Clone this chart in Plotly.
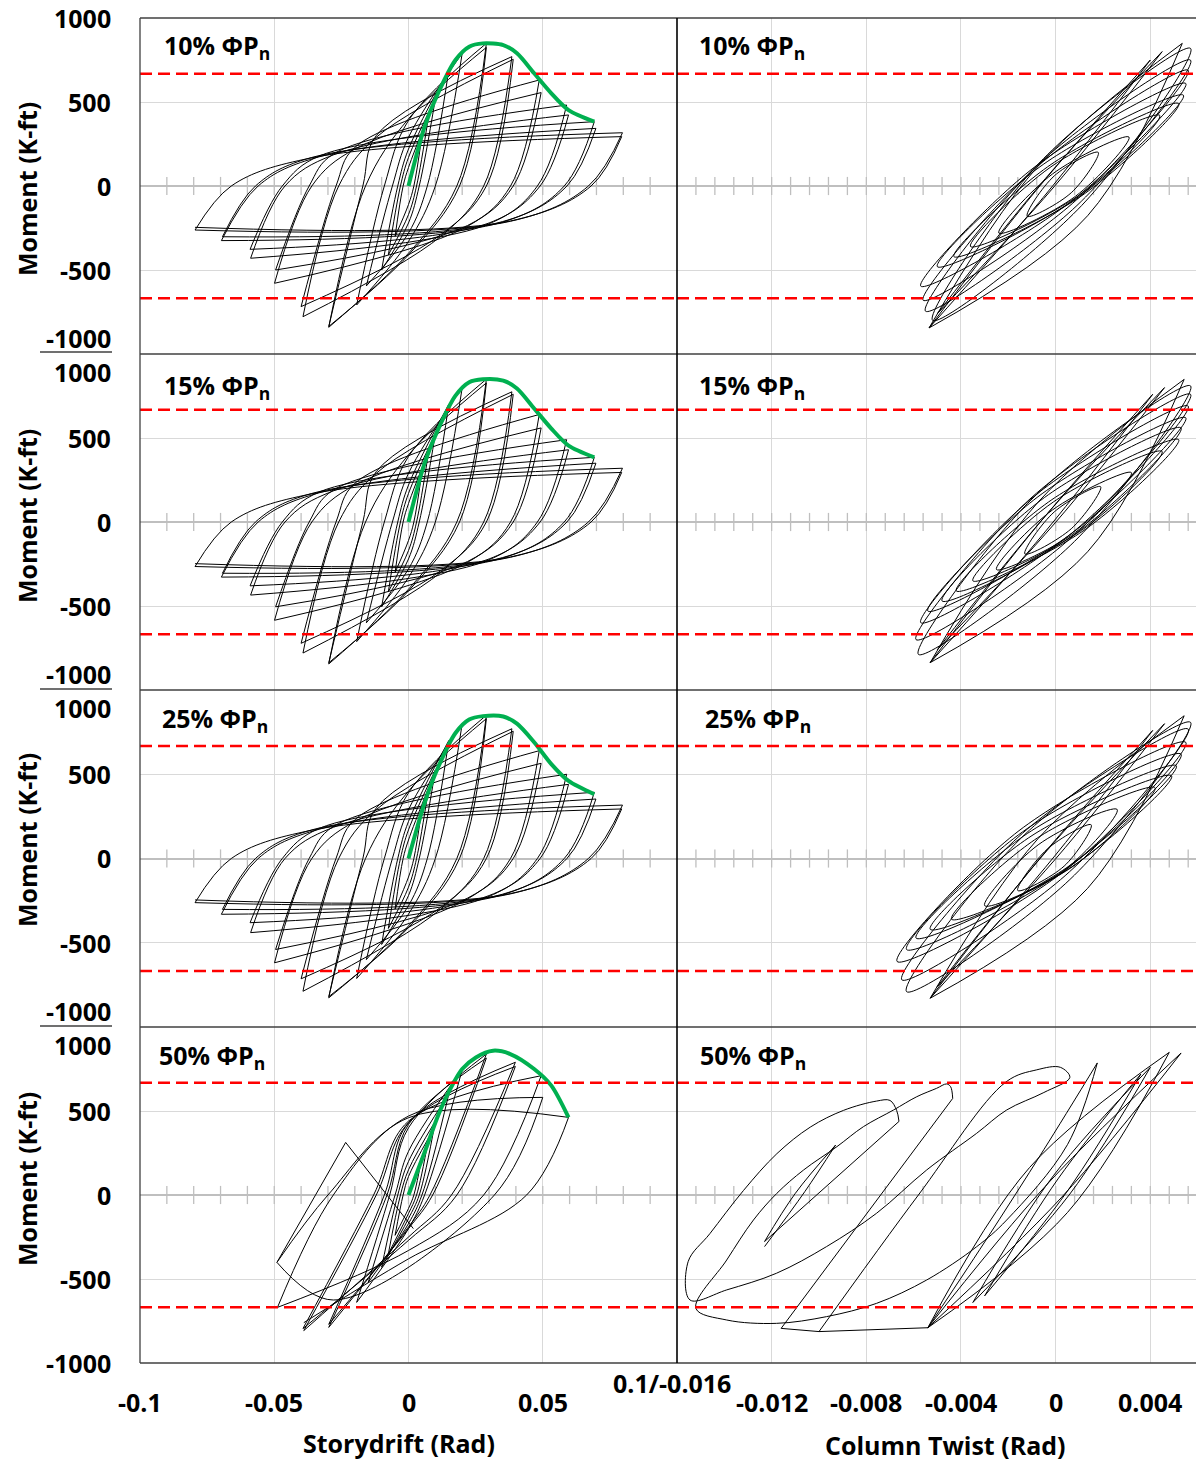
import numpy as np
import plotly.graph_objects as go

W, H = 1196, 1462

# ---------------- data ----------------
LOAD_LEVELS = ["10%", "15%", "25%", "50%"]
CAPACITY = 668  # red dashed lines (K-ft)

# storydrift cycles for the 10/15/25 % rows: tips, zero-moment crossings, and a knee point
DRIFT_POS = [0.005, 0.0075, 0.01, 0.015, 0.02, 0.029, 0.029, 0.0385, 0.039, 0.0487, 0.0494,
             0.0589, 0.0596, 0.0692, 0.0698, 0.0797, 0.0794]
DRIFT_NEG = [-0.005, -0.0075, -0.01, -0.0157, -0.0193, -0.0297, -0.0297, -0.0393, -0.04, -0.0499,
             -0.0495, -0.0588, -0.059, -0.0697, -0.0693, -0.0795, -0.0795]
RESID_POS = [0.002, 0.003, 0.004, 0.007, 0.010, 0.018, 0.019, 0.028, 0.029, 0.038, 0.039,
             0.048, 0.049, 0.058, 0.059, 0.067, 0.068]
RESID_NEG = [-0.002, -0.003, -0.004, -0.006, -0.009, -0.016, -0.017, -0.026, -0.027, -0.036,
             -0.037, -0.046, -0.047, -0.056, -0.057, -0.066, -0.066]
KNEE_D_POS = [0, 0, 0, 0, 0, 0, 0, -0.012, -0.012, -0.02, -0.02, -0.028, -0.028, -0.033, -0.033, -0.036, -0.036]
KNEE_M_POS = [0, 110, 170, 220, 290, 390, 400, 300, 290, 230, 220, 190, 185, 180, 175, 170, 168]
KNEE_D_NEG = [0, 0, 0, 0, 0, 0, 0, 0.012, 0.012, 0.022, 0.022, 0.03, 0.03, 0.035, 0.035, 0.038, 0.038]
KNEE_M_NEG = [-110, -170, -220, -280, -330, -400, -410, -300, -290, -240, -235, -225, -220, -215,
              -212, -210, -208]

MOM_POS_10 = [300, 420, 520, 690, 790, 849, 825, 770, 754, 631, 556, 482, 423, 383, 343, 317, 294]
MOM_NEG_10 = [-300, -410, -500, -595, -708, -841, -836, -778, -718, -579, -500, -430, -377, -325,
              -302, -262, -246]
MOM_POS_15 = [300, 420, 525, 700, 800, 850, 828, 775, 760, 640, 560, 490, 430, 385, 350, 320, 295]
MOM_NEG_15 = [-300, -415, -505, -600, -712, -845, -838, -780, -722, -585, -505, -435, -380, -328,
              -305, -265, -248]
MOM_POS_25 = [300, 420, 525, 700, 800, 850, 830, 770, 755, 640, 565, 500, 440, 393, 353, 317, 294]
MOM_NEG_25 = [-300, -415, -510, -600, -712, -827, -820, -788, -714, -619, -540, -440, -381, -331,
              -302, -262, -246]

# storydrift, 50 % row
DRIFT_POS_50 = [0.005, 0.0075, 0.01, 0.015, 0.02, 0.029, 0.029, 0.0398, 0.0398, 0.0494, 0.05, 0.0596]
MOM_POS_50 = [230, 340, 440, 600, 745, 839, 815, 790, 765, 710, 581, 462]
DRIFT_NEG_50 = [-0.005, -0.0075, -0.01, -0.015, -0.0193, -0.0297, -0.0297, -0.039, -0.0393, -0.0488,
                -0.049, -0.039]
MOM_NEG_50 = [-240, -350, -430, -520, -639, -788, -770, -807, -795, -669, -401, -760]
RESID_POS_50 = [0.002, 0.003, 0.004, 0.005, 0.006, 0.008, 0.009, 0.016, 0.018, 0.028, 0.032, 0.044]
RESID_NEG_50 = [-0.002, -0.003, -0.004, -0.005, -0.007, -0.008, -0.009, -0.012, -0.013, -0.028,
                -0.030, -0.020]
KNEE_D_POS_50 = [0, 0, 0, 0, 0, 0, 0, 0, 0, 0, 0, 0]
KNEE_M_POS_50 = [0, 110, 150, 200, 260, 400, 420, 430, 430, 440, 470, 460]
KNEE_D_NEG_50 = [0, 0, 0, 0, 0, 0, 0, 0, 0, 0, -0.028, 0]
KNEE_M_NEG_50 = [-80, -110, -140, -170, -200, -190, -200, -250, -270, -330, -625, -380]
TAIL_DRIFT_50 = [-0.049, -0.0234, 0.0018]
TAIL_MOM_50 = [-401, 313, -200]

# green backbone curves
GREEN_DRIFT = [0, 0.006, 0.011, 0.0175, 0.0226, 0.0277, 0.0353, 0.0404, 0.0468, 0.0532, 0.0596, 0.0692]
GREEN_MOM_10 = [0, 353, 552, 750, 829, 849, 839, 790, 671, 552, 452, 383]
GREEN_MOM_15 = [0, 350, 550, 752, 832, 850, 842, 795, 676, 556, 455, 385]
GREEN_MOM_25 = [0, 330, 540, 745, 825, 845, 843, 800, 690, 560, 460, 381]
GREEN_DRIFT_50 = [0, 0.006, 0.011, 0.0149, 0.02, 0.0251, 0.0315, 0.0379, 0.0468, 0.0532, 0.0596]
GREEN_MOM_50 = [0, 254, 472, 611, 750, 819, 859, 839, 750, 651, 462]

# column twist loops: left end, right end, a point on the upper and on the lower branch
TW_NEG_10 = [-0.00535, -0.00535, -0.0050, -0.0052, -0.0055, -0.0056, -0.0057, -0.0050, -0.0043, -0.0036, -0.0024, -0.0012]
MT_NEG_10 = [-845, -845, -760, -800, -745, -680, -596, -480, -420, -360, -280, -180]
TW_POS_10 = [0.00535, 0.0040, 0.0045, 0.0057, 0.0057, 0.0056, 0.0055, 0.0054, 0.0052, 0.0044, 0.0031, 0.0018]
MT_POS_10 = [849, 750, 800, 819, 749, 689, 610, 540, 490, 420, 291, 200]
UP_TW_10 = [-0.00075, -0.00083, -0.00043, -0.0007, -0.0008, -0.0008, -0.0009, -0.0005, -0.0002, -0.0002, -0.00013, -0.00006]
UP_MT_10 = [117, -27, 45, 136, 120, 113, 112, 131, 128, 114, 72, 60]
LO_TW_10 = [0.00135, -0.00053, -0.00007, 0.0011, 0.0009, 0.0007, 0.0006, 0.0009, 0.0011, 0.001, 0.00083, 0.00066]
LO_MT_10 = [-177, -69, -5, -116, -116, -105, -98, -71, -58, -54, -62, -40]

TW_NEG_15 = [-0.0053, -0.0053, -0.0050, -0.0058, -0.0059, -0.0057, -0.0054, -0.0048, -0.0042, -0.0035, -0.0025, -0.0013]
MT_NEG_15 = [-837, -837, -760, -788, -700, -599, -530, -470, -410, -350, -283, -190]
TW_POS_15 = [0.00543, 0.0041, 0.0046, 0.0057, 0.0057, 0.0056, 0.0055, 0.0053, 0.0052, 0.0045, 0.0032, 0.0019]
MT_POS_15 = [849, 760, 800, 810, 760, 690, 620, 560, 490, 420, 294, 210]
UP_TW_15 = [-0.00075, -0.00075, -0.00038, -0.001, -0.001, -0.0009, -0.00075, -0.00047, -0.00016, -0.0001, -0.00013, -0.00006]
UP_MT_15 = [117, -17, 45, 137, 148, 154, 150, 146, 133, 119, 72, 60]
LO_TW_15 = [0.00135, -0.00045, -0.00002, 0.0008, 0.0007, 0.0007, 0.00075, 0.00097, 0.00116, 0.0011, 0.00083, 0.00066]
LO_MT_15 = [-177, -59, -5, -115, -88, -64, -60, -56, -53, -49, -62, -40]

TW_NEG_25 = [-0.0053, -0.0053, -0.0050, -0.0063, -0.0065, -0.0067, -0.0063, -0.0059, -0.0053, -0.0044, -0.0030, -0.0016]
MT_NEG_25 = [-829, -829, -760, -790, -720, -611, -540, -472, -420, -360, -280, -190]
TW_POS_25 = [0.00543, 0.0041, 0.0046, 0.0057, 0.0056, 0.0055, 0.0053, 0.0051, 0.0049, 0.0042, 0.0026, 0.0015]
MT_POS_25 = [847, 760, 800, 808, 768, 689, 619, 550, 490, 420, 291, 200]
UP_TW_25 = [-0.00075, -0.00075, -0.00038, -0.0013, -0.0014, -0.00155, -0.0014, -0.0012, -0.001, -0.00076, -0.00074, -0.00036]
UP_MT_25 = [117, -13, 45, 143, 150, 165, 158, 148, 136, 123, 81, 55]
LO_TW_25 = [0.00135, -0.00045, -0.00002, 0.0006, 0.0004, 0.00025, 0.0003, 0.0003, 0.0005, 0.00056, 0.00034, 0.00036]
LO_MT_25 = [-177, -55, -5, -125, -102, -87, -78, -70, -66, -63, -71, -45]
SHARP_TW = [1, 1, 1, 0, 0, 0, 0, 0, 0, 0, 0, 0]

# 50 % row twist: the dense loops on the right ...
TW_NEG_50 = [-0.0054, -0.0054, -0.0035, -0.0030]
MT_NEG_50 = [-790, -790, -640, -600]
TW_POS_50 = [0.0048, 0.0053, 0.0040, 0.0036]
MT_POS_50 = [849, 845, 760, 720]
UP_TW_50 = [-0.0011, -0.0003, -0.0001, 0.0001]
UP_MT_50 = [164, 73, 114, 96]
LO_TW_50 = [0.0005, 0.00023, 0.0006, 0.0005]
LO_MT_50 = [-104, -17, 6, 24]
SHARP_50 = [1, 1, 1, 1]
# ... and the drifting loops on the left, traced branch by branch
E_UP_TW = [-0.0054, -0.0030, -0.0005, 0.00176]
E_UP_MT = [-790, -280, 270, 786]
C_LOOP_TW = [0.00176, 0.0005, -0.00207, -0.00334, -0.00545, -0.00757, -0.00968, -0.0118, -0.0139, -0.0152,
             -0.0139, -0.01277, -0.01178, -0.01065, -0.00924, -0.00812, -0.00685, -0.00587, -0.00503,
             -0.00461, -0.00444, -0.00435]
C_LOOP_MT = [786, 300, -149, -308, -506, -645, -724, -764, -744, -675, -387, -149, 10, 149, 288, 407, 506,
             585, 635, 661, 645, 575]
C_DROP_TW = [-0.00435, -0.0116, -0.0100, -0.0054]
C_DROP_MT = [575, -794, -813, -790]
D_LOOP_TW = [-0.0100, -0.0058, -0.0021, -0.0008, 0.0002, 0.0006, -0.0005, -0.00207, -0.00334, -0.00545,
             -0.00757, -0.00968, -0.0118, -0.0139, -0.01545, -0.01553, -0.01461, -0.01319, -0.01178,
             -0.01037, -0.00896, -0.00757, -0.0070, -0.00672, -0.00662]
D_LOOP_MT = [-813, 0, 673, 745, 760, 700, 610, 506, 367, 149, -109, -307, -466, -565, -625, -397, -230, 27,
             246, 404, 504, 559, 563, 504, 438]
B_DROP_TW = [-0.00662, -0.0123]
B_DROP_MT = [438, -277]
A_UP_TW = [-0.0123, -0.0110, -0.0093]
A_UP_MT = [-277, 10, 297]
A_DOWN_TW = [-0.0093, -0.0106, -0.0123]
A_DOWN_MT = [297, 20, -307]

X_TICKS_DRIFT = [-0.1, -0.05, 0, 0.05]
X_TICKS_TWIST = [-0.012, -0.008, -0.004, 0, 0.004]
Y_TICKS = [1000, 500, 0, -500, -1000]

# ---------------- layout helpers ----------------
ROW_TOP = [18, 354, 690, 1027]
ROW_BOT = [354, 690, 1027, 1363]
COL_L = [140, 677]
COL_R = [677, 1196]
FONT = "Open Sans"
FS = 25


def px(x):
    return x / W


def py(y):
    return 1 - y / H


def ax_id(n):
    return "" if n == 1 else str(n)


def drift_path(dpos, mpos, dneg, mneg, rpos, rneg, kdp, kmp, kdn, kmn):
    xs, ys = [], []
    start = (0.0, 0.0)
    for i in range(len(dpos)):
        mid = sorted([(rneg[i - 1], 0.0), (kdp[i], kmp[i])]) if i > 0 else []
        for p in [start] + mid + [(dpos[i], mpos[i])]:
            xs.append(p[0]); ys.append(p[1])
        xs.append(None); ys.append(None)
        mid = sorted([(rpos[i], 0.0), (kdn[i], kmn[i])], reverse=True)
        for p in [(dpos[i], mpos[i])] + mid + [(dneg[i], mneg[i])]:
            xs.append(p[0]); ys.append(p[1])
        xs.append(None); ys.append(None)
        start = (dneg[i], mneg[i])
    return xs, ys


def lens_path(tn, mn, tp, mp, ut, um, lt, lm, sharp):
    xs, ys = [], []
    for k in range(len(tn)):
        a, u, b, l = (tn[k], mn[k]), (ut[k], um[k]), (tp[k], mp[k]), (lt[k], lm[k])
        segs = [[a, u, b], [b, l, a]] if sharp[k] else [[u, b, l, a, u]]
        for s in segs:
            for p in s:
                xs.append(p[0]); ys.append(p[1])
            xs.append(None); ys.append(None)
    return xs, ys


def label(text, x, y, xref="paper", yref="paper", **kw):
    d = dict(text=f"<b>{text}</b>", x=x, y=y, xref=xref, yref=yref, showarrow=False,
             xanchor="center", yanchor="middle", font=dict(size=FS, family=FONT, color="black"))
    d.update(kw)
    return d


def black(x, y, xa, ya, shape="spline"):
    return go.Scatter(x=x, y=y, mode="lines", xaxis=xa, yaxis=ya, hoverinfo="skip",
                      line=dict(color="black", width=1, shape=shape, smoothing=1))


fig = go.Figure()
layout = dict(width=W, height=H, margin=dict(l=0, r=0, t=0, b=0), showlegend=False,
              paper_bgcolor="white", plot_bgcolor="white", font=dict(family=FONT, color="black"))
shapes, annotations = [], []

drift_rows = [
    (MOM_POS_10, MOM_NEG_10, GREEN_DRIFT, GREEN_MOM_10),
    (MOM_POS_15, MOM_NEG_15, GREEN_DRIFT, GREEN_MOM_15),
    (MOM_POS_25, MOM_NEG_25, GREEN_DRIFT, GREEN_MOM_25),
]
twist_rows = [
    (TW_NEG_10, MT_NEG_10, TW_POS_10, MT_POS_10, UP_TW_10, UP_MT_10, LO_TW_10, LO_MT_10, SHARP_TW),
    (TW_NEG_15, MT_NEG_15, TW_POS_15, MT_POS_15, UP_TW_15, UP_MT_15, LO_TW_15, LO_MT_15, SHARP_TW),
    (TW_NEG_25, MT_NEG_25, TW_POS_25, MT_POS_25, UP_TW_25, UP_MT_25, LO_TW_25, LO_MT_25, SHARP_TW),
    (TW_NEG_50, MT_NEG_50, TW_POS_50, MT_POS_50, UP_TW_50, UP_MT_50, LO_TW_50, LO_MT_50, SHARP_50),
]

for r in range(4):
    for c in range(2):
        n = r * 2 + c + 1
        xa, ya = "x" + ax_id(n), "y" + ax_id(n)
        xrange = [-0.1, 0.1] if c == 0 else [-0.016, 0.00593]
        layout["xaxis" + ax_id(n)] = dict(
            domain=[px(COL_L[c]), px(COL_R[c])], anchor=ya, range=xrange,
            tickvals=X_TICKS_DRIFT if c == 0 else X_TICKS_TWIST,
            showticklabels=False, ticks="", showgrid=True, gridcolor="#D9D9D9", gridwidth=1,
            zeroline=False, showline=False, fixedrange=True)
        layout["yaxis" + ax_id(n)] = dict(
            domain=[py(ROW_BOT[r]), py(ROW_TOP[r])], anchor=xa, range=[-1000, 1000],
            tickvals=[-500, 500], showticklabels=False, ticks="", showgrid=True,
            gridcolor="#D9D9D9", gridwidth=1, zeroline=True, zerolinecolor="#BFBFBF",
            zerolinewidth=2, showline=False, fixedrange=True)

        # minor tick marks crossing the zero line
        if c == 0:
            tick_x = np.round(np.arange(-0.09, 0.0901, 0.01), 4)
        else:
            tick_x = np.round(np.arange(-0.0152, 0.0057, 0.0008), 5)
        fig.add_trace(go.Scatter(x=tick_x, y=np.zeros(len(tick_x)), mode="markers", xaxis=xa, yaxis=ya,
                                 marker=dict(symbol="line-ns-open", size=13, color="#BFBFBF",
                                             line=dict(color="#BFBFBF", width=1.3)),
                                 hoverinfo="skip"))

        if c == 0:
            if r < 3:
                mp_, mn_, gd, gm = drift_rows[r]
                lx, ly = drift_path(DRIFT_POS, mp_, DRIFT_NEG, mn_, RESID_POS, RESID_NEG,
                                    KNEE_D_POS, KNEE_M_POS, KNEE_D_NEG, KNEE_M_NEG)
            else:
                gd, gm = GREEN_DRIFT_50, GREEN_MOM_50
                lx, ly = drift_path(DRIFT_POS_50, MOM_POS_50, DRIFT_NEG_50, MOM_NEG_50,
                                    RESID_POS_50, RESID_NEG_50, KNEE_D_POS_50, KNEE_M_POS_50,
                                    KNEE_D_NEG_50, KNEE_M_NEG_50)
                fig.add_trace(black(TAIL_DRIFT_50, TAIL_MOM_50, xa, ya, shape="linear"))
            fig.add_trace(black(lx, ly, xa, ya))
            fig.add_trace(go.Scatter(x=gd, y=gm, mode="lines", xaxis=xa, yaxis=ya,
                                     line=dict(color="#00B050", width=4, shape="spline", smoothing=0.8),
                                     hoverinfo="skip"))
        else:
            lx, ly = lens_path(*twist_rows[r])
            fig.add_trace(black(lx, ly, xa, ya))
            if r == 3:
                for tx, mx in [(E_UP_TW, E_UP_MT), (C_LOOP_TW, C_LOOP_MT), (D_LOOP_TW, D_LOOP_MT),
                               (A_UP_TW, A_UP_MT), (A_DOWN_TW, A_DOWN_MT)]:
                    fig.add_trace(black(tx, mx, xa, ya))
                for tx, mx in [(C_DROP_TW, C_DROP_MT), (B_DROP_TW, B_DROP_MT)]:
                    fig.add_trace(black(tx, mx, xa, ya, shape="linear"))

        for m in (CAPACITY, -CAPACITY):
            shapes.append(dict(type="line", xref=f"{xa} domain", x0=0, x1=1, yref=ya, y0=m, y1=m,
                               line=dict(color="#FF0000", width=2.6, dash="12px,6px")))

        lab_x = [[162, 697], [162, 697], [160, 703], [157, 698]][r][c]
        lab_y = [47, 386, 719, 1056][r]
        annotations.append(label(f"{LOAD_LEVELS[r]} ΦP<sub>n</sub>", px(lab_x), py(lab_y), xanchor="left"))

    # y tick labels
    ya = "y" + ax_id(r * 2 + 1)
    shift_top = 0 if r == 0 else -18
    shift_bot = 0 if r == 3 else 16
    for v in Y_TICKS:
        s = shift_top if v == 1000 else (shift_bot if v == -1000 else 0)
        annotations.append(label(v, px(113), v, yref=ya, xanchor="right", yshift=s))
    annotations.append(label("Moment (K-ft)", px(27), py([189, 516, 840, 1179][r]), textangle=-90))

# frames
for yb in ROW_TOP + [ROW_BOT[-1]]:
    shapes.append(dict(type="line", xref="paper", yref="paper", x0=px(140), x1=1, y0=py(yb), y1=py(yb),
                       line=dict(color="#404040", width=1.3)))
shapes.append(dict(type="line", xref="paper", yref="paper", x0=px(140), x1=px(140), y0=py(18),
                   y1=py(1363), line=dict(color="#404040", width=1.3)))
shapes.append(dict(type="line", xref="paper", yref="paper", x0=px(677), x1=px(677), y0=py(18),
                   y1=py(1363), line=dict(color="black", width=1.6)))
for yb in [352, 689, 1026]:
    shapes.append(dict(type="line", xref="paper", yref="paper", x0=px(40), x1=px(112), y0=py(yb),
                       y1=py(yb), line=dict(color="#404040", width=1.3)))

# bottom tick labels and axis titles
for v in X_TICKS_DRIFT:
    annotations.append(label(f"{v:g}", v, py(1402), xref="x7"))
for v in X_TICKS_TWIST:
    annotations.append(label(f"{v:g}", v, py(1402), xref="x8"))
annotations.append(label("0.1/-0.016", px(672), py(1383)))
annotations.append(label("Storydrift (Rad)", px(399), py(1443)))
annotations.append(label("Column Twist (Rad)", px(945), py(1445)))

layout["shapes"] = shapes
layout["annotations"] = annotations
fig.update_layout(**layout)
fig.write_html("out.html", config={"displayModeBar": False},
               post_script="document.body.style.margin='0';")
